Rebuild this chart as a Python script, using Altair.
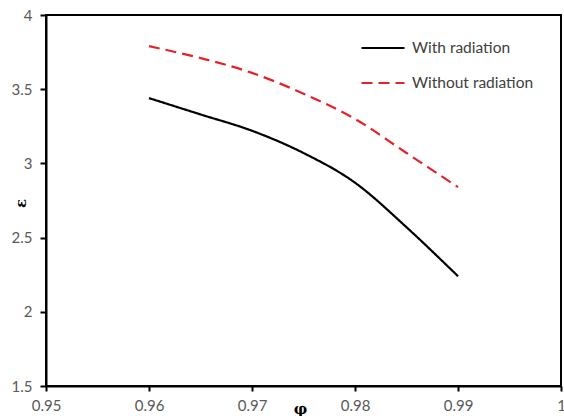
import altair as alt
import pandas as pd

phi = [0.96, 0.965, 0.97, 0.975, 0.98, 0.985, 0.99]
with_rad = [3.44, 3.33, 3.22, 3.07, 2.87, 2.57, 2.24]
without_rad = [3.79, 3.71, 3.61, 3.47, 3.30, 3.07, 2.84]
series = ["With radiation", "Without radiation"]
x_ticks = [0.95, 0.96, 0.97, 0.98, 0.99, 1.0]
y_ticks = [1.5, 2.0, 2.5, 3.0, 3.5, 4.0]
x_domain = [0.95, 1.0]
y_domain = [1.5, 4.0]

rows = []
for p, a, b in zip(phi, with_rad, without_rad):
    rows.append({"phi": p, "eps": a, "series": series[0]})
    rows.append({"phi": p, "eps": b, "series": series[1]})
df = pd.DataFrame(rows)

LBL = "#595959"
FONT = "Lato"
INK = "#000000"

xscale = alt.Scale(domain=x_domain, nice=False, zero=False)
yscale = alt.Scale(domain=y_domain, nice=False, zero=False)

leg = dict(title=None, orient="none", legendX=314, legendY=10,
           symbolType="stroke", symbolSize=1849, symbolStrokeWidth=2.2,
           labelFont=FONT, labelFontSize=15.5, labelColor="#404040",
           symbolOffset=0, labelOffset=6, rowPadding=3, padding=0)

lines = alt.Chart(df).mark_line(interpolate="cardinal", tension=0, strokeWidth=2.2).encode(
    x=alt.X("phi:Q", scale=xscale,
            axis=alt.Axis(values=x_ticks, format="~g", title="φ",
                          titleX=254, titleY=22, titleAlign="center",
                          titleBaseline="middle", titleFont="DejaVu Serif",
                          titleFontSize=15, titleFontWeight="bold", titleColor="black",
                          grid=False, tickSize=5, labelPadding=7,
                          labelFlush=False)),
    y=alt.Y("eps:Q", scale=yscale,
            axis=alt.Axis(values=y_ticks, format="~g", title="ε",
                          titleX=-26, titleY=188, titleAngle=-90,
                          titleAlign="center", titleBaseline="middle",
                          titleFont="DejaVu Serif", titleFontSize=15,
                          titleFontWeight="bold", titleColor="black",
                          grid=False, tickSize=6, labelPadding=8,
                          labelFlush=False)),
    color=alt.Color("series:N",
                    scale=alt.Scale(domain=series, range=["black", "#e3232b"]),
                    legend=alt.Legend(**leg)),
    strokeDash=alt.StrokeDash("series:N",
                              scale=alt.Scale(domain=series, range=[[1, 0], [11, 6]]),
                              legend=alt.Legend(**leg)),
)

frame = alt.Chart(df).mark_rect(fill=None, fillOpacity=0, stroke=INK, strokeWidth=2).encode(
    x=alt.datum(x_domain[0], type="quantitative"),
    x2=alt.datum(x_domain[1]),
    y=alt.datum(y_domain[0], type="quantitative"),
    y2=alt.datum(y_domain[1]),
)

chart = alt.layer(lines, frame).properties(
    width=515, height=371,
    padding={"left": 46, "top": 15, "right": 3, "bottom": 30},
    autosize=alt.AutoSizeParams(type="none"),
    background="white",
).configure_view(
    stroke=INK, strokeWidth=2
).configure_axis(
    domainColor=INK, domainWidth=2, tickColor=INK, tickWidth=2,
    labelFont=FONT, labelFontSize=15, labelColor=LBL
)

chart.save("out.html", embed_options={"renderer": "svg", "actions": False})
